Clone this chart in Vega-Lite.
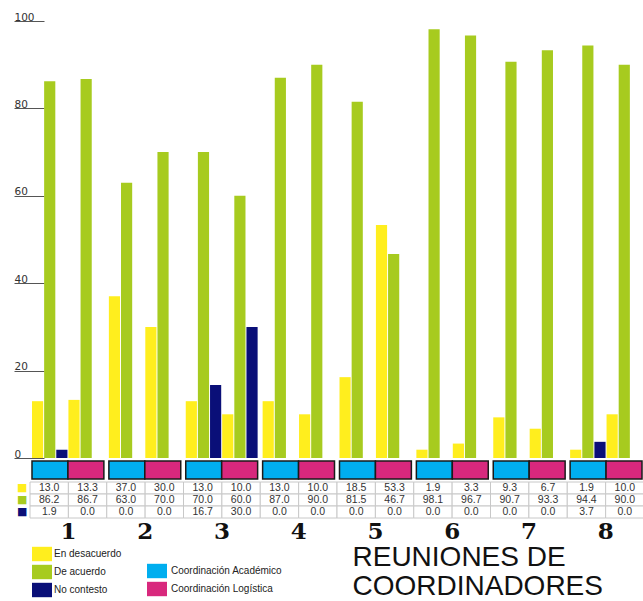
{
  "$schema": "https://vega.github.io/schema/vega-lite/v6.json",
  "padding": {"left": 13, "top": 12, "right": 0, "bottom": 0},
  "spacing": 3,
  "bounds": "flush",
  "config": {"view": {"stroke": null}, "font": "Liberation Sans"},
  "title": {
    "text": ["REUNIONES DE", "COORDINADORES"],
    "orient": "bottom",
    "anchor": "start",
    "frame": "bounds",
    "dx": 339,
    "dy": -58,
    "font": "Liberation Sans",
    "fontSize": 28,
    "fontWeight": "normal",
    "color": "#111111",
    "lineHeight": 29
  },
  "datasets": {
    "d": [
      {"group": "1", "coord": "Coordinación Académico", "series": "En desacuerdo", "value": 13.0},
      {"group": "1", "coord": "Coordinación Académico", "series": "De acuerdo", "value": 86.2},
      {"group": "1", "coord": "Coordinación Académico", "series": "No contesto", "value": 1.9},
      {"group": "1", "coord": "Coordinación Logística", "series": "En desacuerdo", "value": 13.3},
      {"group": "1", "coord": "Coordinación Logística", "series": "De acuerdo", "value": 86.7},
      {"group": "1", "coord": "Coordinación Logística", "series": "No contesto", "value": 0.0},
      {"group": "2", "coord": "Coordinación Académico", "series": "En desacuerdo", "value": 37.0},
      {"group": "2", "coord": "Coordinación Académico", "series": "De acuerdo", "value": 63.0},
      {"group": "2", "coord": "Coordinación Académico", "series": "No contesto", "value": 0.0},
      {"group": "2", "coord": "Coordinación Logística", "series": "En desacuerdo", "value": 30.0},
      {"group": "2", "coord": "Coordinación Logística", "series": "De acuerdo", "value": 70.0},
      {"group": "2", "coord": "Coordinación Logística", "series": "No contesto", "value": 0.0},
      {"group": "3", "coord": "Coordinación Académico", "series": "En desacuerdo", "value": 13.0},
      {"group": "3", "coord": "Coordinación Académico", "series": "De acuerdo", "value": 70.0},
      {"group": "3", "coord": "Coordinación Académico", "series": "No contesto", "value": 16.7},
      {"group": "3", "coord": "Coordinación Logística", "series": "En desacuerdo", "value": 10.0},
      {"group": "3", "coord": "Coordinación Logística", "series": "De acuerdo", "value": 60.0},
      {"group": "3", "coord": "Coordinación Logística", "series": "No contesto", "value": 30.0},
      {"group": "4", "coord": "Coordinación Académico", "series": "En desacuerdo", "value": 13.0},
      {"group": "4", "coord": "Coordinación Académico", "series": "De acuerdo", "value": 87.0},
      {"group": "4", "coord": "Coordinación Académico", "series": "No contesto", "value": 0.0},
      {"group": "4", "coord": "Coordinación Logística", "series": "En desacuerdo", "value": 10.0},
      {"group": "4", "coord": "Coordinación Logística", "series": "De acuerdo", "value": 90.0},
      {"group": "4", "coord": "Coordinación Logística", "series": "No contesto", "value": 0.0},
      {"group": "5", "coord": "Coordinación Académico", "series": "En desacuerdo", "value": 18.5},
      {"group": "5", "coord": "Coordinación Académico", "series": "De acuerdo", "value": 81.5},
      {"group": "5", "coord": "Coordinación Académico", "series": "No contesto", "value": 0.0},
      {"group": "5", "coord": "Coordinación Logística", "series": "En desacuerdo", "value": 53.3},
      {"group": "5", "coord": "Coordinación Logística", "series": "De acuerdo", "value": 46.7},
      {"group": "5", "coord": "Coordinación Logística", "series": "No contesto", "value": 0.0},
      {"group": "6", "coord": "Coordinación Académico", "series": "En desacuerdo", "value": 1.9},
      {"group": "6", "coord": "Coordinación Académico", "series": "De acuerdo", "value": 98.1},
      {"group": "6", "coord": "Coordinación Académico", "series": "No contesto", "value": 0.0},
      {"group": "6", "coord": "Coordinación Logística", "series": "En desacuerdo", "value": 3.3},
      {"group": "6", "coord": "Coordinación Logística", "series": "De acuerdo", "value": 96.7},
      {"group": "6", "coord": "Coordinación Logística", "series": "No contesto", "value": 0.0},
      {"group": "7", "coord": "Coordinación Académico", "series": "En desacuerdo", "value": 9.3},
      {"group": "7", "coord": "Coordinación Académico", "series": "De acuerdo", "value": 90.7},
      {"group": "7", "coord": "Coordinación Académico", "series": "No contesto", "value": 0.0},
      {"group": "7", "coord": "Coordinación Logística", "series": "En desacuerdo", "value": 6.7},
      {"group": "7", "coord": "Coordinación Logística", "series": "De acuerdo", "value": 93.3},
      {"group": "7", "coord": "Coordinación Logística", "series": "No contesto", "value": 0.0},
      {"group": "8", "coord": "Coordinación Académico", "series": "En desacuerdo", "value": 1.9},
      {"group": "8", "coord": "Coordinación Académico", "series": "De acuerdo", "value": 94.4},
      {"group": "8", "coord": "Coordinación Académico", "series": "No contesto", "value": 3.7},
      {"group": "8", "coord": "Coordinación Logística", "series": "En desacuerdo", "value": 10.0},
      {"group": "8", "coord": "Coordinación Logística", "series": "De acuerdo", "value": 90.0},
      {"group": "8", "coord": "Coordinación Logística", "series": "No contesto", "value": 0.0}
    ]
  },
  "data": {"name": "d"},
  "resolve": {
    "scale": {"x": "independent", "y": "independent", "xOffset": "independent", "color": "independent", "fill": "independent"},
    "legend": {"color": "independent", "fill": "independent"}
  },
  "vconcat": [
    {
      "width": 614,
      "height": 437,
      "encoding": {
        "x": {"field": "group", "type": "nominal", "axis": null, "scale": {"paddingInner": 0.065, "paddingOuter": 0.026}},
        "y": {
          "field": "value", "type": "quantitative",
          "scale": {"domain": [0, 100], "nice": false},
          "axis": {
            "title": null, "values": [0, 20, 40, 60, 80, 100], "domain": false, "grid": false,
            "tickSize": 30, "tickColor": "#555555", "tickWidth": 1, "offset": -14,
            "labelAlign": "left", "labelBaseline": "alphabetic", "labelPadding": 0, "labelOffset": -1,
            "labelFont": "DejaVu Sans", "labelFontSize": 10.5, "labelColor": "#333333", "labelFlush": false
          }
        },
        "color": {
          "field": "series", "type": "nominal",
          "scale": {"domain": ["En desacuerdo", "De acuerdo", "No contesto"], "range": ["#FFEE1E", "#A7CB1F", "#0A0F78"]},
          "legend": {
            "orient": "none", "legendX": 2, "legendY": 523, "title": null, "direction": "vertical",
            "symbolType": "M-1,-0.72H1V0.72H-1Z", "symbolSize": 400, "symbolStrokeWidth": 0,
            "labelFont": "Liberation Sans", "labelFontSize": 10, "labelColor": "#222222",
            "rowPadding": -1, "labelOffset": 2, "padding": 0
          }
        }
      },
      "layer": [
        {
          "transform": [{"filter": "datum.coord === 'Coordinación Académico'"}],
          "mark": {"type": "bar"},
          "encoding": {
            "xOffset": {"field": "series", "type": "nominal",
              "scale": {"domain": ["En desacuerdo", "De acuerdo", "No contesto", " a", " b", " c"], "paddingInner": 0.08, "paddingOuter": 0}}
          }
        },
        {
          "transform": [{"filter": "datum.coord === 'Coordinación Logística'"}],
          "mark": {"type": "bar"},
          "encoding": {
            "xOffset": {"field": "series", "type": "nominal",
              "scale": {"domain": [" a", " b", " c", "En desacuerdo", "De acuerdo", "No contesto"], "paddingInner": 0.08, "paddingOuter": 0}}
          }
        }
      ],
      "resolve": {"scale": {"xOffset": "independent"}}
    },
    {
      "width": 614,
      "height": 18,
      "transform": [{"filter": "datum.series === 'De acuerdo'"}],
      "mark": {"type": "bar", "stroke": "#1a1a1a", "strokeWidth": 1.5},
      "encoding": {
        "x": {"field": "group", "type": "nominal", "axis": null, "scale": {"paddingInner": 0.065, "paddingOuter": 0.026}},
        "xOffset": {"field": "coord", "type": "nominal", "scale": {"paddingInner": 0, "paddingOuter": 0}},
        "fill": {
          "field": "coord", "type": "nominal",
          "scale": {"domain": ["Coordinación Académico", "Coordinación Logística"], "range": ["#00AEEF", "#D8287D"]},
          "legend": {
            "orient": "none", "legendX": 117, "legendY": 100, "title": null, "direction": "vertical",
            "symbolType": "M-1,-0.72H1V0.72H-1Z", "symbolSize": 400, "symbolStrokeWidth": 0,
            "labelFont": "Liberation Sans", "labelFontSize": 10, "labelColor": "#222222",
            "rowPadding": -1, "labelOffset": 4, "padding": 0
          }
        }
      }
    },
    {
      "width": 614,
      "height": 36,
      "encoding": {
        "x": {
          "field": "group", "type": "nominal",
          "scale": {"paddingInner": 0, "paddingOuter": 0},
          "axis": {
            "title": null, "domain": false, "ticks": false, "labelAngle": 0,
            "labelFont": "DejaVu Serif", "labelFontWeight": "bold", "labelFontSize": 23,
            "labelColor": "#111111", "labelPadding": 2
          }
        },
        "xOffset": {"field": "coord", "type": "nominal", "scale": {"paddingInner": 0, "paddingOuter": 0}},
        "y": {
          "field": "series", "type": "nominal",
          "sort": ["En desacuerdo", "De acuerdo", "No contesto"],
          "scale": {"paddingInner": 0, "paddingOuter": 0},
          "axis": {
            "title": null, "domain": false, "ticks": false, "labelExpr": "'■'",
            "labelFont": "DejaVu Sans", "labelFontSize": 11, "labelPadding": 3, "labelBaseline": "middle",
            "labelColor": {
              "condition": [
                {"test": "datum.value === 'En desacuerdo'", "value": "#FFEE1E"},
                {"test": "datum.value === 'De acuerdo'", "value": "#A7CB1F"}
              ],
              "value": "#0A0F78"
            }
          }
        }
      },
      "layer": [
        {"mark": {"type": "rect", "fill": "white", "stroke": "#c8c8c8", "strokeWidth": 1}},
        {
          "mark": {"type": "text", "font": "Liberation Sans", "fontSize": 10.5, "color": "#333333"},
          "encoding": {"text": {"field": "value", "type": "quantitative", "format": ".1f"}}
        }
      ]
    }
  ]
}
